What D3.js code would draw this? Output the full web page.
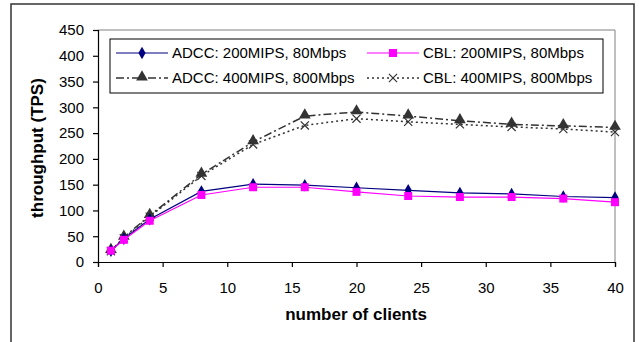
<!DOCTYPE html>
<html lang="en">
<head>
    <meta charset="UTF-8">
    <title>throughput vs number of clients</title>
    <script src="https://cdn.jsdelivr.net/npm/d3@7"></script>
    <style>
        body { margin: 0; background: #fff; }
        svg { font-family: "Liberation Sans", Arial, sans-serif; }
    </style>
</head>
<body>
    <svg width="639" height="342" id="chart"></svg>
    <script type="text/javascript">
        // data
        var clients = [1, 2, 4, 8, 12, 16, 20, 24, 28, 32, 36, 40];
        var adcc200 = [22, 45, 83, 137, 151, 149, 144, 139, 134, 132, 127, 125];
        var cbl200 = [22, 43, 80, 130, 145, 145, 136, 128, 126, 126, 123, 116];
        var adcc400 = [22, 48, 90, 170, 233, 283, 291, 283, 274, 267, 264, 261];
        var cbl400 = [21, 46, 88, 167, 228, 265, 278, 272, 267, 262, 258, 252];
        var xTicks = [0, 5, 10, 15, 20, 25, 30, 35, 40];
        var yTicks = [0, 50, 100, 150, 200, 250, 300, 350, 400, 450];
        var seriesNames = ["ADCC: 200MIPS, 80Mbps", "CBL: 200MIPS, 80Mbps",
            "ADCC: 400MIPS, 800Mbps", "CBL: 400MIPS, 800Mbps"];

        var series = [
            { name: seriesNames[0], values: adcc200, color: "#000080", dash: null, marker: "diamond", width: 1.2 },
            { name: seriesNames[1], values: cbl200, color: "#ff00ff", dash: null, marker: "square", width: 1.2 },
            { name: seriesNames[2], values: adcc400, color: "#333333", dash: "8,3,2,3", marker: "triangle", width: 1.5 },
            { name: seriesNames[3], values: cbl400, color: "#333333", dash: "2,3", marker: "cross", width: 1.5 }
        ];

        var svg = d3.select("#chart");
        var marge = { top: 30, left: 98, right: 615, bottom: 262 };

        // outer frame
        svg.append("rect")
            .attr("x", 11).attr("y", 4)
            .attr("width", 623).attr("height", 345)
            .attr("fill", "none").attr("stroke", "#333").attr("stroke-width", 1.5);

        var x = d3.scaleLinear().domain([0, 40]).range([marge.left, marge.right]);
        var y = d3.scaleLinear().domain([0, 450]).range([marge.bottom, marge.top]);

        // plot area border (gray top/right)
        svg.append("path")
            .attr("d", "M" + marge.left + "," + marge.top + "H" + marge.right + "V" + marge.bottom)
            .attr("fill", "none").attr("stroke", "#808080").attr("stroke-width", 1);

        var xAxis = d3.axisBottom(x).tickValues(xTicks).tickSizeOuter(0).tickSize(5).tickPadding(15);
        var yAxis = d3.axisLeft(y).tickValues(yTicks).tickSizeOuter(0).tickSize(5).tickPadding(9);

        var gx = svg.append("g")
            .attr("transform", "translate(0," + marge.bottom + ")")
            .call(xAxis);
        var gy = svg.append("g")
            .attr("transform", "translate(" + marge.left + ",0)")
            .call(yAxis);
        [gx, gy].forEach(function (g) {
            g.selectAll("path, line").attr("stroke", "#000").attr("stroke-width", 1.2);
            g.selectAll("text").attr("fill", "#000").style("font-size", "15px")
                .style("font-family", "'Liberation Sans', Arial, sans-serif");
        });

        // axis titles
        svg.append("text")
            .attr("x", 356).attr("y", 320)
            .attr("text-anchor", "middle")
            .style("font-size", "17px").style("font-weight", "bold")
            .text("number of clients");
        svg.append("text")
            .attr("transform", "translate(43,148) rotate(-90)")
            .attr("text-anchor", "middle")
            .style("font-size", "17px").style("font-weight", "bold")
            .text("throughput (TPS)");

        function drawMarker(g, type, cx, cy, color) {
            if (type === "diamond") {
                g.append("path").attr("d", d3.symbol(d3.symbolDiamond, 45)())
                    .attr("transform", "translate(" + cx + "," + cy + ")").attr("fill", color);
            } else if (type === "square") {
                g.append("rect").attr("x", cx - 4).attr("y", cy - 4)
                    .attr("width", 8).attr("height", 8).attr("fill", color);
            } else if (type === "triangle") {
                g.append("path").attr("d", d3.symbol(d3.symbolTriangle, 60)())
                    .attr("transform", "translate(" + cx + "," + (cy - 1) + ")").attr("fill", color);
            } else {
                g.append("path").attr("d", d3.symbol(d3.symbolX, 45)())
                    .attr("transform", "translate(" + cx + "," + cy + ")")
                    .attr("fill", "none").attr("stroke", color).attr("stroke-width", 1.2);
            }
        }

        var line = d3.line()
            .x(function (d, i) { return x(clients[i]); })
            .y(function (d) { return y(d); });

        // draw 400 series first, then 200 series on top
        [2, 3, 0, 1].forEach(function (k) {
            var s = series[k];
            var g = svg.append("g");
            g.append("path")
                .datum(s.values)
                .attr("d", line)
                .attr("fill", "none")
                .attr("stroke", s.color)
                .attr("stroke-width", s.width)
                .attr("stroke-dasharray", s.dash);
            s.values.forEach(function (v, i) {
                drawMarker(g, s.marker, x(clients[i]), y(v), s.color);
            });
        });

        // legend
        var legend = svg.append("g");
        legend.append("rect")
            .attr("x", 110).attr("y", 39)
            .attr("width", 493).attr("height", 54)
            .attr("fill", "#fff").attr("stroke", "#000").attr("stroke-width", 1);
        var legendPos = [[116, 53], [367, 53], [116, 78], [367, 78]];
        series.forEach(function (s, k) {
            var p = legendPos[k];
            legend.append("line")
                .attr("x1", p[0]).attr("x2", p[0] + 52)
                .attr("y1", p[1]).attr("y2", p[1])
                .attr("stroke", s.color).attr("stroke-width", s.width)
                .attr("stroke-dasharray", s.dash);
            drawMarker(legend, s.marker, p[0] + 26, p[1], s.color);
            legend.append("text")
                .attr("x", p[0] + 56).attr("y", p[1] + 5)
                .style("font-size", "15px")
                .text(s.name);
        });
    </script>
</body>
</html>
